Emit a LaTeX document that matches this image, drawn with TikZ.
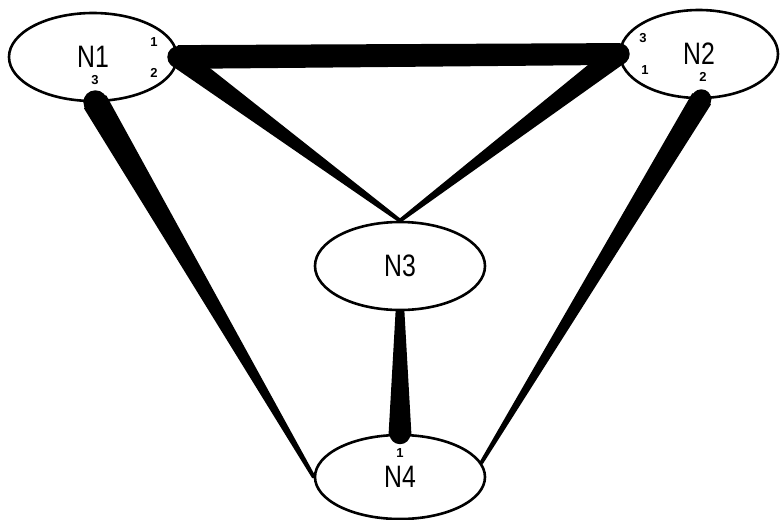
\documentclass[tikz,border=0pt]{standalone}
\usepackage{fontspec}
\setmainfont{Liberation Sans}
\usetikzlibrary{shapes.geometric,calc}
\tikzset{
  nodeell/.style={ellipse,draw=black,line width=2.6pt,inner sep=0pt,font=\fontsize{31}{31}\selectfont},
  portlbl/.style={font=\fontsize{13}{13}\selectfont\bfseries,inner sep=0pt},
  wedgefill/.style={fill=black,draw=black,line width=1.8pt,line join=round}
}
\newcommand\wedgeconn[4]{%
  \filldraw[wedgefill] ($(#1)!#3!90:(#2)$) -- ($(#2)!#4!-90:(#1)$) -- ($(#2)!#4!90:(#1)$) -- ($(#1)!#3!-90:(#2)$) -- cycle;
  \fill (#1) circle (#3);
}
\newcommand\nlbl[1]{\scalebox{0.8}[1]{#1}}
\begin{document}
\begin{tikzpicture}[x=1pt,y=-1pt]
\useasboundingbox (0,0) rectangle (780,520);
\node[nodeell,minimum width=168pt,minimum height=88pt] (n1) at (93,57) {\nlbl{N1}};
\node[nodeell,minimum width=158pt,minimum height=88pt] (n2) at (699,54) {\nlbl{N2}};
\node[nodeell,minimum width=170pt,minimum height=88pt] (n3) at (400,266) {\nlbl{N3}};
\node[nodeell,minimum width=170pt,minimum height=84pt] (n4) at (400,477) {\nlbl{N4}};
% connectors
\wedgeconn{n1.east}{n2.west}{11pt}{10pt}
\fill (n2.west) circle (11pt);
\wedgeconn{n1.east}{n3.north}{10pt}{1pt}
\wedgeconn{n2.west}{n3.north}{10pt}{1pt}
\wedgeconn{n1.-87}{n4.west}{12pt}{1pt}
\wedgeconn{n2.-87}{n4.10}{10pt}{1pt}
\wedgeconn{n4.north}{n3.south}{10.5pt}{3.5pt}
% port labels
\node[portlbl] (p11) at (154,42) {1};
\node[portlbl] (p12) at (154,73) {2};
\node[portlbl] (p13) at (95,80) {3};
\node[portlbl] (p23) at (643,38) {3};
\node[portlbl] (p21) at (645,70) {1};
\node[portlbl] (p22) at (703,77) {2};
\node[portlbl] (p41) at (400,453) {1};
\end{tikzpicture}
\end{document}
